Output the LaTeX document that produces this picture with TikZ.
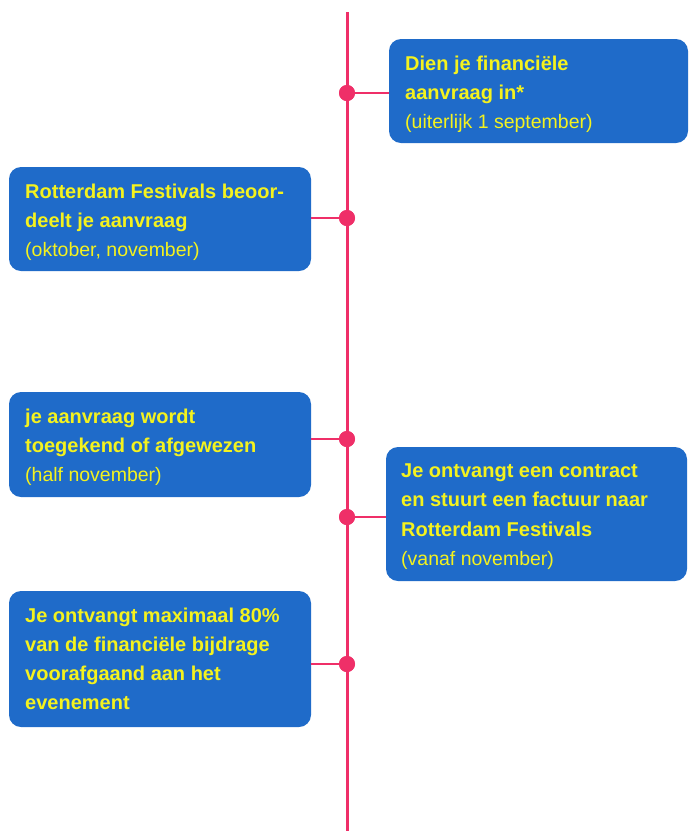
\documentclass[tikz,border=0pt]{standalone}
\usepackage{fontspec}
\setmainfont{Liberation Sans}
\definecolor{boxblue}{HTML}{1F6BC9}
\definecolor{txtyellow}{HTML}{F4F21E}
\definecolor{linepink}{HTML}{EF2F68}
\begin{document}
\begin{tikzpicture}[x=1pt,y=-1pt,
  box/.style={draw=none,fill=boxblue,rounded corners=12pt,inner sep=0pt},
  bl/.style={anchor=base west,inner sep=0pt,text=txtyellow,font=\fontsize{20}{29}\selectfont\bfseries},
  rl/.style={anchor=base west,inner sep=0pt,text=txtyellow,font=\fontsize{19.5}{29}\selectfont},
  conn/.style={draw=linepink,line width=2.5pt},
  dot/.style={circle,fill=linepink,minimum size=16pt,inner sep=0pt}]
\useasboundingbox (0,0) rectangle (689,831);
% timeline
\coordinate (top) at (347,12);
\coordinate (bot) at (347,831);
\draw[draw=linepink,line width=3pt] (top) -- (bot);
% boxes
\node[box,minimum width=299pt,minimum height=104pt] (b1) at (538.5,91) {};
\node[box,minimum width=302pt,minimum height=104pt] (b2) at (160,219) {};
\node[box,minimum width=302pt,minimum height=105pt] (b3) at (160,444.5) {};
\node[box,minimum width=301pt,minimum height=134pt] (b4) at (536.5,514) {};
\node[box,minimum width=302pt,minimum height=136pt] (b5) at (160,659) {};
% dots
\node[dot] (d1) at (347,93) {};
\node[dot] (d2) at (347,218) {};
\node[dot] (d3) at (347,439) {};
\node[dot] (d4) at (347,517) {};
\node[dot] (d5) at (347,664) {};
% connectors
\draw[conn] (d1.center) -- (b1.west |- d1.center);
\draw[conn] (d2.center) -- (b2.east |- d2.center);
\draw[conn] (d3.center) -- (b3.east |- d3.center);
\draw[conn] (d4.center) -- (b4.west |- d4.center);
\draw[conn] (d5.center) -- (b5.east |- d5.center);
\node[dot] at (d1) {};
\node[dot] at (d2) {};
\node[dot] at (d3) {};
\node[dot] at (d4) {};
\node[dot] at (d5) {};
% texts box 1
\node[bl] (t1a) at (405,70) {Dien je financiële};
\node[bl] (t1b) at (405,99) {aanvraag in*};
\node[rl] (t1c) at (405,128.5) {(uiterlijk 1 september)};
% box 2
\node[bl] (t2a) at (25,198) {Rotterdam Festivals beoor-};
\node[bl] (t2b) at (25,227) {deelt je aanvraag};
\node[rl] (t2c) at (25,256.5) {(oktober, november)};
% box 3
\node[bl] (t3a) at (25,423) {je aanvraag wordt};
\node[bl] (t3b) at (25,452) {toegekend of afgewezen};
\node[rl] (t3c) at (25,481.5) {(half november)};
% box 4
\node[bl] (t4a) at (401,477) {Je ontvangt een contract};
\node[bl] (t4b) at (401,506.5) {en stuurt een factuur naar};
\node[bl] (t4c) at (401,536) {Rotterdam Festivals};
\node[rl] (t4d) at (401,565.5) {(vanaf november)};
% box 5
\node[bl] (t5a) at (25,622) {Je ontvangt maximaal 80\%};
\node[bl] (t5b) at (25,651.5) {van de financiële bijdrage};
\node[bl] (t5c) at (25,680.5) {voorafgaand aan het};
\node[bl] (t5d) at (25,709.5) {evenement};
\end{tikzpicture}
\end{document}
